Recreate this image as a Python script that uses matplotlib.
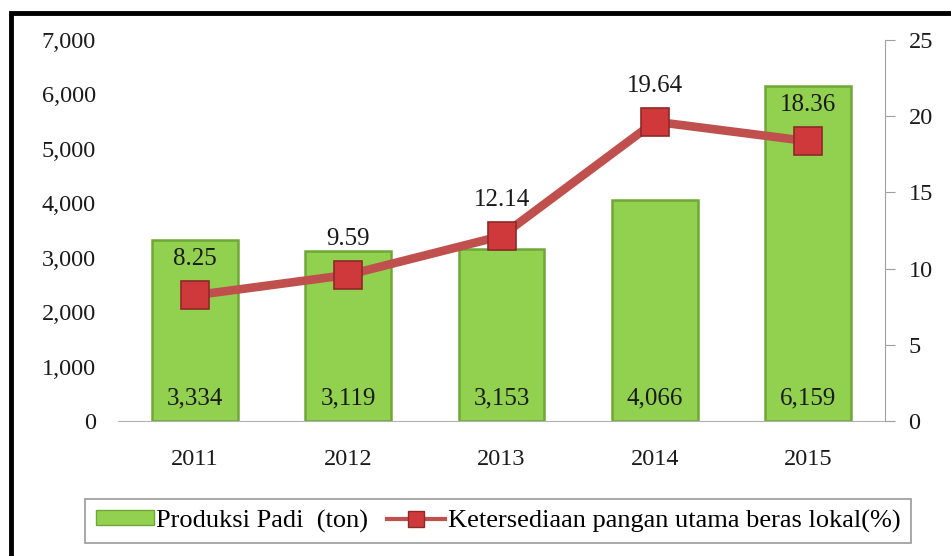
import numpy as np
import matplotlib.pyplot as plt
from matplotlib.patches import Rectangle
from matplotlib.lines import Line2D
from matplotlib.patches import Patch

years = ["2011", "2012", "2013", "2014", "2015"]
produksi = [3334, 3119, 3153, 4066, 6159]
ketersediaan = [8.25, 9.59, 12.14, 19.64, 18.36]

plt.rcParams['font.family'] = ['Liberation Serif', 'DejaVu Serif']
plt.rcParams['font.size'] = 17.5

fig = plt.figure(figsize=(9.51, 5.56), dpi=100)
ax = fig.add_axes([118/951, 135/556, 767/951, 381/556])
ax2 = ax.twinx()

x = np.arange(len(years))
ax.bar(x, produksi, width=0.56, color="#92D050", edgecolor="#6FA838", linewidth=1.8, zorder=2)
ax.set_xlim(-0.5, len(years) - 0.5)
ax.set_ylim(0, 7000)
ax.set_yticks(np.arange(0, 7001, 1000))
ax.set_yticklabels(["{:,}".format(v) for v in range(0, 7001, 1000)], color="#1a1a1a")
ax.set_xticks(x)
ax.set_xticklabels(years, color="#1a1a1a")
ax.tick_params(axis='y', length=0, pad=16)
ax.tick_params(axis='x', length=0, pad=20)
for s in ["top", "right", "left"]:
    ax.spines[s].set_visible(False)
ax.spines["bottom"].set_color("#B0B0B0")

for i, v in enumerate(produksi):
    ax.annotate("{:,}".format(v), xy=(i, 0), xytext=(0, 8), textcoords="offset points",
                ha="center", va="bottom", color="#1a1a1a", fontsize=18)

ax2.plot(x, ketersediaan, color="#C0504D", linewidth=6.2, marker="s", markersize=20,
         markerfacecolor="#D0393B", markeredgecolor="#8C2A28", markeredgewidth=1.2, zorder=3)
ax2.set_ylim(0, 25)
ax2.set_yticks(np.arange(0, 26, 5))
ax2.tick_params(axis='y', direction='out', length=7, color="#A0A0A0", pad=10, labelcolor="#1a1a1a")
for s in ["top", "left", "bottom"]:
    ax2.spines[s].set_visible(False)
ax2.spines["right"].set_color("#A0A0A0")

for i, v in enumerate(ketersediaan):
    ax2.annotate("{:.2f}".format(v), xy=(i, v), xytext=(0, 18), textcoords="offset points",
                 ha="center", va="bottom", color="#1a1a1a", fontsize=18)

handles = [Patch(facecolor="#92D050", edgecolor="#6FA838"),
           Line2D([0], [0], color="#C0504D", linewidth=3, marker="s", markersize=11,
                  markerfacecolor="#D0393B", markeredgecolor="#8C2A28")]
leg = fig.legend(handles, ["Produksi Padi  (ton)", "Ketersediaan pangan utama beras lokal(%)"],
                 loc="center", bbox_to_anchor=(498/951, 1 - 521/556), ncol=2,
                 frameon=True, fancybox=False, edgecolor="#808080", fontsize=19,
                 handlelength=2.2, handleheight=0.5, handletextpad=0.1, columnspacing=0.7,
                 borderpad=0.4)
leg.get_frame().set_linewidth(1.2)

border = Rectangle((11/951, -0.1), 1.2, 1.1 - 13/556, transform=fig.transFigure,
                   fill=False, edgecolor="black", linewidth=3.5, clip_on=False)
fig.patches.append(border)

fig.savefig("out.png", dpi=100)
